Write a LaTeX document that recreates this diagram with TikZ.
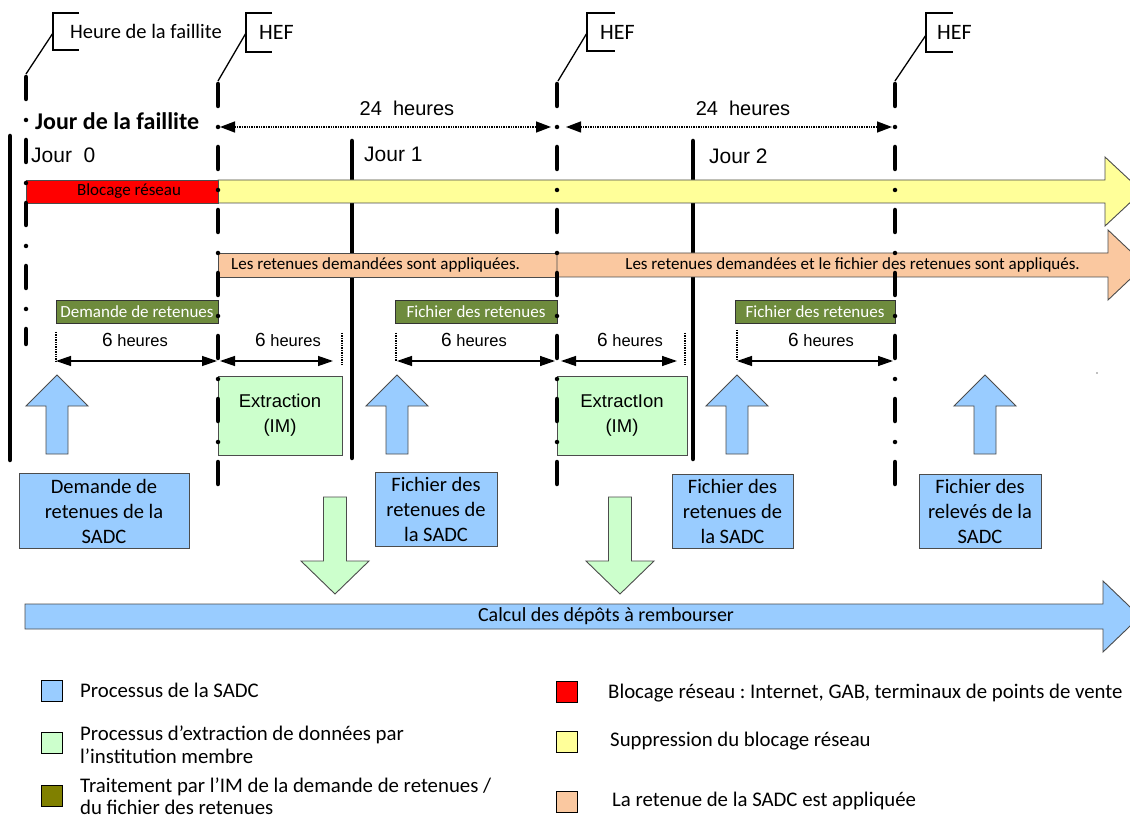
\documentclass[tikz,border=0pt]{standalone}
\usepackage{fontspec}
\setmainfont{Carlito}
\newfontfamily\arialf{Liberation Sans}
\usetikzlibrary{arrows.meta}
\frenchspacing
\definecolor{sblue}{HTML}{99CCFF}
\definecolor{sgreen}{HTML}{CCFFCC}
\definecolor{syellow}{HTML}{FFFF99}
\definecolor{speach}{HTML}{FAC8A0}
\definecolor{sred}{HTML}{FF0000}
\definecolor{solive}{HTML}{6E8B3D}
\definecolor{soliveleg}{HTML}{808000}
\newcommand\sadcup[1]{\draw[frame,fill=sblue] ({#1-11},454) -- ({#1-11},406) -- ({#1-31},406) -- (#1,375) -- ({#1+31},406) -- ({#1+11},406) -- ({#1+11},454) -- cycle;}
\newcommand\sadcdown[1]{\draw[frame,fill=sgreen] ({#1-11.5},497) -- ({#1+11.5},497) -- ({#1+11.5},561) -- ({#1+34},561) -- (#1,594) -- ({#1-34},561) -- ({#1-11.5},561) -- cycle;}
\begin{document}
\begin{tikzpicture}[x=1pt,y=-1pt,
 solidline/.style={line width=4.5pt,line cap=round},
 hefline/.style={line width=4.5pt,line cap=round,dash pattern=on 22pt off 21pt on 0pt off 20pt},
 thinl/.style={line width=1.3pt},
 dimarr/.style={line width=1.3pt,{Triangle[length=15pt,width=10pt]}-{Triangle[length=15pt,width=10pt]}},
 dotarr/.style={line width=1.4pt,densely dotted,{Triangle[length=15pt,width=11pt]}-{Triangle[length=15pt,width=11pt]}},
 dotv/.style={line width=1.4pt,densely dotted},
 frame/.style={draw=black!70,line width=0.9pt},
 bluebox/.style={frame,fill=sblue,align=center,inner sep=0pt,font=\fontsize{20.5}{25}\selectfont},
 greenbox/.style={frame,fill=sgreen,align=center,inner sep=0pt,font=\arialf\fontsize{18.5}{25}\selectfont},
 olivebox/.style={draw=black!80,line width=0.9pt,fill=solive,text=white,inner sep=0pt,font=\fontsize{17}{20}\selectfont},
 bartext/.style={inner sep=0pt,font=\fontsize{17}{20}\selectfont},
 lbl/.style={inner sep=0pt},
 legtext/.style={inner sep=0pt,anchor=west,align=left,font=\fontsize{20.8}{22.5}\selectfont},
 legsq/.style={draw=black,line width=0.9pt,minimum width=21pt,minimum height=21pt,inner sep=0pt},
]
\useasboundingbox (0,0) rectangle (1130,818);
\clip (0,0) rectangle (1130,818);
\fill[white] (0,0) rectangle (1130,818);

% coordinates of line tops and ends
\coordinate (l0t) at (26,77);   \coordinate (l0b) at (26,344);
\coordinate (h1t) at (218,84);  \coordinate (h1b) at (218,486);
\coordinate (h2t) at (557,84);  \coordinate (h2b) at (557,486);
\coordinate (h3t) at (895,84);  \coordinate (h3b) at (895,486);

% solid day lines
\draw[solidline] (10,136) -- (10,460);
\draw[solidline] (352,141) -- (352,458);
\draw[solidline] (693,141) -- (693,459);

% bars
\draw[frame,fill=syellow] (218,180) -- (1105,180) -- (1105,157) -- (1142,191.5) -- (1105,226) -- (1105,203) -- (218,203) -- cycle;
\draw[frame,fill=sred] (26,180) rectangle (218,203);
\draw[frame,fill=speach] (218,253) rectangle (557,277);
\draw[frame,fill=speach] (557,253) -- (1108,253) -- (1108,230) -- (1145,265) -- (1108,300) -- (1108,277) -- (557,277) -- cycle;

\node[bartext,anchor=base] (blocage) at (129,196) {Blocage réseau};
\node[bartext,anchor=base west] (ret1) at (231,270) {Les retenues demandées sont appliquées.};
\node[bartext,anchor=base east] (ret2) at (1080,270) {Les retenues demandées et le fichier des retenues sont appliqués.};

% olive processing boxes
\node[olivebox,minimum width=162pt,minimum height=23pt] (dr) at (137,311.5) {Demande de retenues};
\node[olivebox,minimum width=162pt,minimum height=23pt] (fr1) at (476,311.5) {Fichier des retenues};
\node[olivebox,minimum width=160pt,minimum height=23pt] (fr2) at (815,311.5) {Fichier des retenues};

% extraction boxes
\node[greenbox,minimum width=124pt,minimum height=79pt] (ex1) at (280,415.5) {Extraction\\(IM)};
\node[greenbox,minimum width=130pt,minimum height=79pt] (ex2) at (622,415.5) {ExtractIon\\(IM)};

% dash-dot lines
\draw[hefline] (l0t) -- (l0b);
\draw[hefline] (h1t) -- (h1b);
\draw[hefline] (h2t) -- (h2b);
\draw[hefline] (h3t) -- (h3b);

% callouts
\node[lbl,anchor=base west,font=\fontsize{20.5}{24}\selectfont] (cf) at (70,39) {Heure de la faillite};
\draw[thinl] (79,13) -- (53,13) -- (53,50) -- (79,50);
\coordinate (cfp) at (53,33);
\draw[thinl] (cfp) -- (26,74);
\node[lbl,anchor=base west,font=\fontsize{22}{26}\selectfont] (hef1) at (259,40) {HEF};
\draw[thinl] (272,13) -- (246,13) -- (246,52) -- (272,52);
\coordinate (c1p) at (246,33);
\draw[thinl] (c1p) -- (218,81);
\node[lbl,anchor=base west,font=\fontsize{22}{26}\selectfont] (hef2) at (600,40) {HEF};
\draw[thinl] (615,13) -- (587,13) -- (587,51) -- (615,51);
\coordinate (c2p) at (587,33);
\draw[thinl] (c2p) -- (558,81);
\node[lbl,anchor=base west,font=\fontsize{22}{26}\selectfont] (hef3) at (937,40) {HEF};
\draw[thinl] (953,13) -- (926,13) -- (926,52) -- (953,52);
\coordinate (c3p) at (926,35);
\draw[thinl] (c3p) -- (895,81);

% day labels
\node[lbl,anchor=base west,font=\bfseries\fontsize{24}{28}\selectfont] (jdf) at (35,130) {Jour de la faillite};
\node[lbl,anchor=base west,font=\arialf\fontsize{21}{25}\selectfont] (j0) at (31,163) {Jour\ \ 0};
\node[lbl,anchor=base west,font=\arialf\fontsize{21}{25}\selectfont] (j1) at (364,162) {Jour 1};
\node[lbl,anchor=base west,font=\arialf\fontsize{21}{25}\selectfont] (j2) at (709,164) {Jour 2};

% 24 hours
\coordinate (a1l) at (220,127); \coordinate (a1r) at (551,127);
\coordinate (a2l) at (566,127); \coordinate (a2r) at (892,127);
\draw[dotarr] (a1l) -- (a1r);
\draw[dotarr] (a2l) -- (a2r);
\node[lbl,anchor=base,font=\arialf\fontsize{20}{24}\selectfont] (h24a) at (407,116) {24\ \ heures};
\node[lbl,anchor=base,font=\arialf\fontsize{20}{24}\selectfont] (h24b) at (743,116) {24\ \ heures};

% 6 hours
\newcommand\sixh{{\fontsize{19}{23}\selectfont 6}{\fontsize{16.5}{23}\selectfont\ heures}}
\coordinate (d1l) at (56,361); \coordinate (d1r) at (217,361);
\coordinate (d2l) at (220,361); \coordinate (d2r) at (333,361);
\coordinate (d3l) at (397,361); \coordinate (d3r) at (555,361);
\coordinate (d4l) at (561,361); \coordinate (d4r) at (677,361);
\coordinate (d5l) at (737,361); \coordinate (d5r) at (893,361);
\draw[dimarr] (d1l) -- (d1r);
\draw[dimarr] (d2l) -- (d2r);
\draw[dimarr] (d3l) -- (d3r);
\draw[dimarr] (d4l) -- (d4r);
\draw[dimarr] (d5l) -- (d5r);
\draw[dotv] (56,332) -- (d1l);
\draw[dotv] (342,333) -- (342,365);
\draw[dotv] (396,333) -- (396,361);
\draw[dotv] (685,333) -- (685,365);
\draw[dotv] (737,330) -- (737,360);
\node[lbl,anchor=base,font=\arialf] (s1) at (135,347) {\sixh};
\node[lbl,anchor=base,font=\arialf] (s2) at (288,347) {\sixh};
\node[lbl,anchor=base,font=\arialf] (s3) at (474,347) {\sixh};
\node[lbl,anchor=base,font=\arialf] (s4) at (630,347) {\sixh};
\node[lbl,anchor=base,font=\arialf] (s5) at (821,347) {\sixh};

% blue up arrows
\sadcup{57}
\sadcup{397}
\sadcup{737}
\sadcup{985}

% blue boxes
\node[bluebox,minimum width=170pt,minimum height=75pt] (bdem) at (104,511) {Demande de\\retenues de la\\SADC};
\node[bluebox,minimum width=122pt,minimum height=74pt] (bfr1) at (436,509) {Fichier des\\retenues de\\la SADC};
\node[bluebox,minimum width=121pt,minimum height=74pt] (bfr2) at (732.5,511) {Fichier des\\retenues de\\la SADC};
\node[bluebox,minimum width=122pt,minimum height=74pt] (brel) at (980,511) {Fichier des\\relevés de la\\SADC};

% green down arrows
\sadcdown{335}
\sadcdown{620}

% calcul arrow
\draw[frame,fill=sblue] (25,604) -- (1103,604) -- (1103,581) -- (1140,616.5) -- (1103,652) -- (1103,629) -- (25,629) -- cycle;
\node[lbl,font=\fontsize{20}{24}\selectfont] (calc) at (606,616.5) {Calcul des dépôts à rembourser};

\fill[gray] (1097,373) circle (0.9);

% legend
\node[legsq,fill=sblue] (lq1) at (51.5,690.5) {};
\node[legtext] (lt1) at (80,690) {Processus de la SADC};
\node[legsq,fill=sgreen] (lq2) at (51.5,742.5) {};
\node[legtext] (lt2) at (80,744.5) {Processus d’extraction de données par\\l’institution membre};
\node[legsq,fill=soliveleg] (lq3) at (51.5,795.5) {};
\node[legtext] (lt3) at (80,796) {Traitement par l’IM de la demande de retenues /\\du fichier des retenues};
\node[legsq,fill=sred] (lq4) at (566.5,692) {};
\node[legtext] (lt4) at (608,693) {Blocage réseau : Internet, GAB, terminaux de points de vente};
\node[legsq,fill=syellow] (lq5) at (566.5,742) {};
\node[legtext] (lt5) at (610,741) {Suppression du blocage réseau};
\node[legsq,fill=speach] (lq6) at (566.5,801.5) {};
\node[legtext] (lt6) at (612,801) {La retenue de la SADC est appliquée};
\end{tikzpicture}
\end{document}
